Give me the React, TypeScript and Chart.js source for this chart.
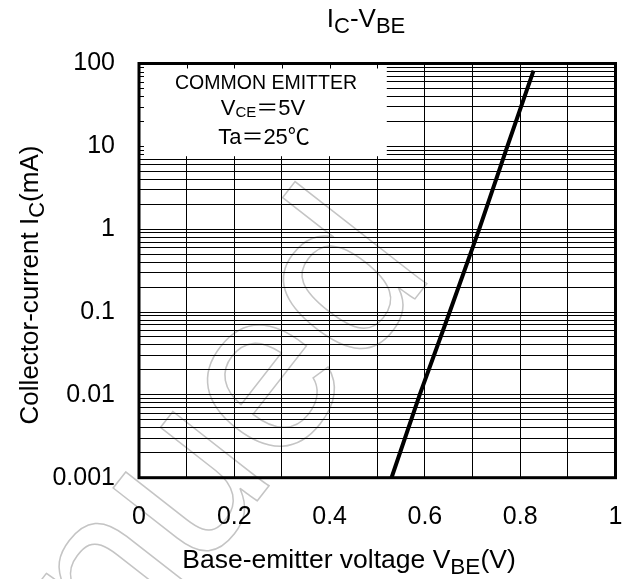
import { useEffect, useRef } from 'react';
import { Chart, registerables } from 'chart.js';

Chart.register(...registerables);

// ---- data ----
const vbeValues = [0.530, 0.589, 0.652, 0.714, 0.773, 0.828];
const icValues = [0.001, 0.01, 0.1, 1, 10, 82];

const xGridValues = [0, 0.1, 0.2, 0.3, 0.4, 0.5, 0.6, 0.7, 0.8, 0.9, 1];
const xLabelValues = [0, 0.2, 0.4, 0.6, 0.8, 1];
const xTickLabels = ['0', '0.2', '0.4', '0.6', '0.8', '1'];

const yDecades = [0.001, 0.01, 0.1, 1, 10, 100];
const yTickLabels = ['0.001', '0.01', '0.1', '1', '10', '100'];
const yMinorSteps = [1, 2, 3, 4, 5, 6, 7, 8, 9];

type Part = { t: string; sub?: boolean };
const titleParts: Part[] = [{ t: 'I' }, { t: 'C', sub: true }, { t: '-V' }, { t: 'BE', sub: true }];
const xTitleParts: Part[] = [{ t: 'Base-emitter voltage V' }, { t: 'BE', sub: true }, { t: '(V)' }];
const yTitleParts: Part[] = [{ t: 'Collector-current I' }, { t: 'C', sub: true }, { t: '(mA)' }];
const legendLine1: Part[] = [{ t: 'COMMON EMITTER' }];
const legendLine2: Part[] = [{ t: 'V' }, { t: 'CE', sub: true }, { t: '＝5V' }];
const legendLine3: Part[] = [{ t: 'Ta＝25℃' }];
const watermarkText = 'Discontinued';

const FONT = "Arial, 'Liberation Sans', 'Noto Sans CJK JP', sans-serif";

function drawRich(
  ctx: CanvasRenderingContext2D,
  parts: Part[],
  x: number,
  y: number,
  size: number,
  subSize: number,
  subShift: number,
) {
  let total = 0;
  const widths = parts.map((p) => {
    ctx.font = `${p.sub ? subSize : size}px ${FONT}`;
    const w = ctx.measureText(p.t).width;
    total += w;
    return w;
  });
  let cx = x - total / 2;
  ctx.textAlign = 'left';
  ctx.textBaseline = 'alphabetic';
  parts.forEach((p, i) => {
    ctx.font = `${p.sub ? subSize : size}px ${FONT}`;
    ctx.fillText(p.t, cx, y + (p.sub ? subShift : 0));
    cx += widths[i];
  });
}

function buildYGrid(): number[] {
  const vals: number[] = [];
  for (let i = 0; i < yDecades.length - 1; i++) {
    for (const m of yMinorSteps) vals.push(yDecades[i] * m);
  }
  vals.push(yDecades[yDecades.length - 1]);
  return vals;
}

function strokeWatermark(ctx: CanvasRenderingContext2D, x: number, y: number) {
  ctx.save();
  ctx.translate(x, y);
  ctx.rotate((-52 * Math.PI) / 180);
  ctx.font = `230px ${FONT}`;
  ctx.textAlign = 'right';
  ctx.textBaseline = 'alphabetic';
  ctx.strokeStyle = '#c4c4c4';
  ctx.lineWidth = 1.5;
  ctx.strokeText(watermarkText, 0, 0);
  ctx.restore();
}

const decorPlugin = {
  id: 'decor',
  beforeDraw(chart: any) {
    const ctx: CanvasRenderingContext2D = chart.ctx;
    ctx.save();
    ctx.fillStyle = '#fff';
    ctx.fillRect(0, 0, chart.width, chart.height);
    ctx.restore();
    strokeWatermark(ctx, 436, 272);
  },
  beforeDatasetsDraw(chart: any) {
    const ctx: CanvasRenderingContext2D = chart.ctx;
    const area = chart.chartArea;
    const xs = chart.scales.x;
    const ys = chart.scales.y;
    const boxRight = xs.getPixelForValue(0.52);
    const boxBottom = ys.getPixelForValue(7.6);
    ctx.save();
    ctx.fillStyle = '#fff';
    ctx.fillRect(area.left, area.top, boxRight - area.left, boxBottom - area.top);
    ctx.strokeStyle = '#000';
    ctx.lineWidth = 1;
    ctx.beginPath();
    for (const v of buildYGrid()) {
      const py = Math.round(ys.getPixelForValue(v)) + 0.5;
      if (py < boxBottom) {
        ctx.moveTo(area.left, py);
        ctx.lineTo(area.left + 5, py);
      }
    }
    for (const v of xGridValues) {
      const px = Math.round(xs.getPixelForValue(v)) + 0.5;
      if (px < boxRight) {
        ctx.moveTo(px, area.top);
        ctx.lineTo(px, area.top + 5);
      }
    }
    ctx.stroke();
    ctx.restore();
  },
  afterDraw(chart: any) {
    const ctx: CanvasRenderingContext2D = chart.ctx;
    const area = chart.chartArea;
    ctx.save();
    ctx.strokeStyle = '#000';
    ctx.lineWidth = 3;
    ctx.strokeRect(area.left, area.top, area.right - area.left, area.bottom - area.top);
    ctx.fillStyle = '#000';
    // titles
    drawRich(ctx, titleParts, 366, 27, 26, 22, 6);
    drawRich(ctx, xTitleParts, 349, 568, 26.5, 22.5, 6);
    ctx.save();
    ctx.translate(38, 285);
    ctx.rotate(-Math.PI / 2);
    drawRich(ctx, yTitleParts, 0, 0, 26, 22, 6);
    ctx.restore();
    // legend text
    drawRich(ctx, legendLine1, 266, 89, 19.5, 19.5, 0);
    drawRich(ctx, legendLine2, 263, 115, 22, 15, 2);
    drawRich(ctx, legendLine3, 264, 144, 22, 22, 0);
    ctx.restore();
  },
};

export default function App() {
  const ref = useRef<HTMLCanvasElement | null>(null);
  useEffect(() => {
    if (!ref.current) return;
    const yGrid = buildYGrid();
    const zeroPad = (axis: any) => {
      axis.paddingLeft = 0;
      axis.paddingRight = 0;
      axis.paddingTop = 0;
      axis.paddingBottom = 0;
    };
    const chart = new Chart(ref.current, {
      type: 'scatter',
      data: {
        datasets: [
          {
            data: vbeValues.map((v, i) => ({ x: v, y: icValues[i] })),
            showLine: true,
            borderColor: '#000',
            borderWidth: 4,
            pointRadius: 0,
            tension: 0,
          },
        ],
      },
      options: {
        responsive: false,
        animation: false,
        events: [],
        devicePixelRatio: 1,
        layout: { padding: { top: 63.5, right: 13.5, left: 0, bottom: 0 } },
        plugins: { legend: { display: false }, tooltip: { enabled: false } },
        scales: {
          x: {
            type: 'linear',
            min: 0,
            max: 1,
            afterBuildTicks: (axis: any) => {
              axis.ticks = xGridValues.map((v) => ({ value: v }));
            },
            afterFit: (axis: any) => {
              axis.height = 579 - 477.7;
              zeroPad(axis);
            },
            ticks: {
              autoSkip: false,
              maxRotation: 0,
              padding: 24,
              color: '#000',
              font: { family: FONT, size: 25 },
              callback: (value: any) => {
                const idx = xLabelValues.findIndex((l) => Math.abs(l - Number(value)) < 1e-9);
                return idx >= 0 ? xTickLabels[idx] : '';
              },
            },
            grid: { color: '#000', lineWidth: 1, drawTicks: false },
            border: { display: false },
          },
          y: {
            type: 'logarithmic',
            min: 0.001,
            max: 100,
            afterBuildTicks: (axis: any) => {
              axis.ticks = yGrid.map((v) => ({ value: v }));
            },
            afterFit: (axis: any) => {
              axis.width = 139;
              zeroPad(axis);
            },
            ticks: {
              autoSkip: false,
              padding: 24,
              color: '#000',
              font: { family: FONT, size: 25 },
              callback: (value: any) => {
                const lv = Math.log10(Number(value));
                const idx = yDecades.findIndex((d) => Math.abs(Math.log10(d) - lv) < 1e-6);
                return idx >= 0 ? yTickLabels[idx] : '';
              },
            },
            grid: { color: '#000', lineWidth: 1, drawTicks: false },
            border: { display: false },
          },
        },
      },
      plugins: [decorPlugin],
    } as any);
    return () => chart.destroy();
  }, []);
  return (
    <div style={{ position: 'absolute', left: 0, top: 0, width: 629, height: 579, background: '#fff' }}>
      <canvas ref={ref} width={629} height={579} style={{ display: 'block', width: 629, height: 579 }} />
    </div>
  );
}
